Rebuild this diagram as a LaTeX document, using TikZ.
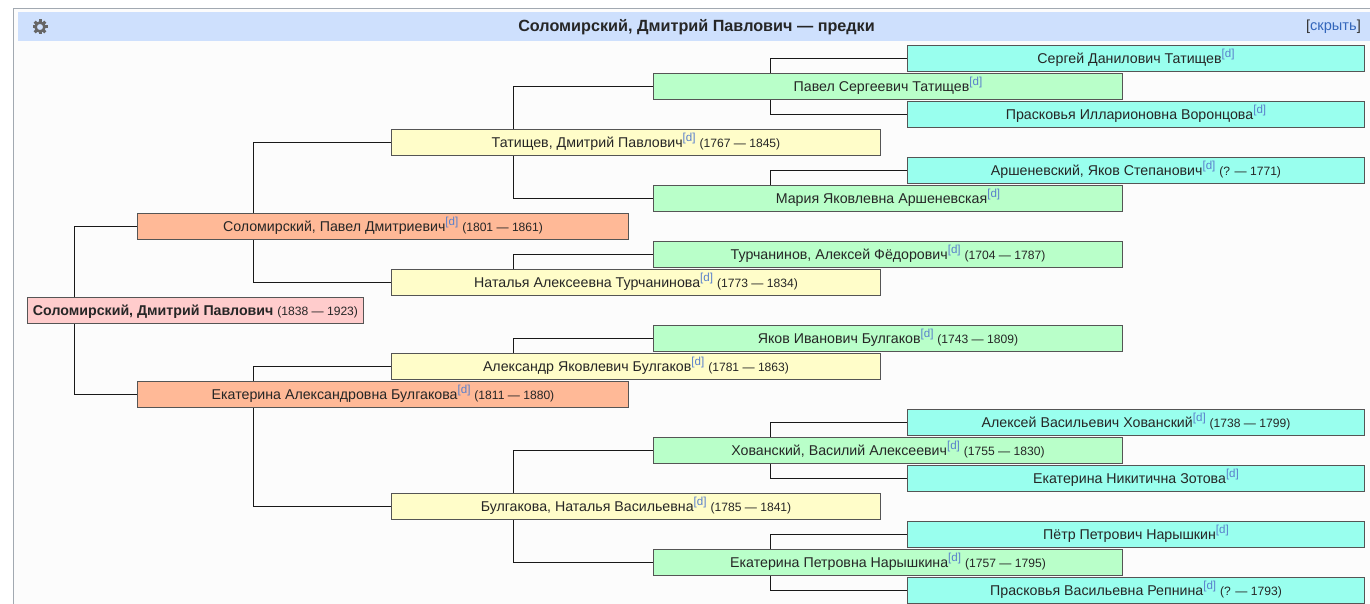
\documentclass[tikz,border=0pt]{standalone}
\usepackage{fontspec}
\setmainfont{Liberation Sans}
\definecolor{framegray}{HTML}{A2A9B1}
\definecolor{panelbg}{HTML}{FCFCFC}
\definecolor{bandblue}{HTML}{CEE0FD}
\definecolor{linkblue}{HTML}{3366BB}
\definecolor{refblue}{HTML}{5A80CC}
\definecolor{edgegray}{HTML}{555555}
\definecolor{rootpink}{HTML}{FFCCCC}
\definecolor{parentorange}{HTML}{FFB997}
\definecolor{grandyellow}{HTML}{FFFDC9}
\definecolor{greatgreen}{HTML}{B9FFC9}
\definecolor{topcyan}{HTML}{99FFEE}
\newcommand{\refd}{\raisebox{5.6pt}[0pt][0pt]{\fontsize{11.6}{11.6}\selectfont\textcolor{refblue}{[d]}}}
\newcommand{\yrs}[1]{ {\fontsize{12.1}{14}\selectfont (#1)}}
\tikzset{
        person/.style={draw=edgegray, line width=1.1pt, inner sep=0pt, minimum height=26pt, text=black!85,
                text height=11.5pt, text depth=1.5pt, font=\fontsize{14.2}{16}\selectfont, anchor=center},
        gen0/.style={person, fill=rootpink, minimum width=336pt},
        gen1/.style={person, fill=parentorange, minimum width=491pt},
        gen2/.style={person, fill=grandyellow, minimum width=489pt},
        gen3/.style={person, fill=greatgreen, minimum width=469pt},
        gen4/.style={person, fill=topcyan, minimum width=457pt},
        link/.style={line width=1pt, black!90}
}
\begin{document}
\begin{tikzpicture}[x=1pt, y=-1pt]

        \useasboundingbox (0, 0) rectangle (1370, 604);

        % panel and title band
        \fill[white] (0, 0) rectangle (1370, 604);
        \fill[panelbg] (13.5, 8.5) rectangle (1370, 604);
        \draw[framegray, line width=1pt] (13.5, 604) -- (13.5, 8.5) -- (1370, 8.5);
        \fill[bandblue] (17.5, 12.5) rectangle (1370, 41);

        \node[font=\fontsize{16.2}{18}\selectfont\bfseries, text=black!85] (title) at (696.5, 27)
                {Соломирский, Дмитрий Павлович — предки};
        \node[font=\fontsize{14.6}{16}\selectfont, text=linkblue, anchor=east, inner sep=0pt] (hide) at (1361, 27)
                {\textcolor{black!80}{[}скрыть\textcolor{black!80}{]}};

        % gear
        \foreach \a in {0, 45, ..., 315}
        {
                \draw[black!60, line width=3pt] (40, 27) ++(\a:4.5) -- ++(\a:3);
        }
        \draw[black!60, line width=2.6pt] (40, 27) circle (4.5);

        % invisible spines
        \coordinate (spineA) at (74, 0);
        \coordinate (spineB) at (253.5, 0);
        \coordinate (spineC) at (513.5, 0);
        \coordinate (spineD) at (770.5, 0);

        \node[gen0] (root) at (195.5, 310.5)
                {\textbf{Соломирский, Дмитрий Павлович}\yrs{1838 — 1923}};

        \foreach \nm/\yy/\who in {
                pavel/226.5/{Соломирский, Павел Дмитриевич\refd\yrs{1801 — 1861}},
                ekat/394.5/{Екатерина Александровна Булгакова\refd\yrs{1811 — 1880}}}
        {
                \node[gen1] (\nm) at (383, \yy) {\who};
        }

        \foreach \nm/\yy/\who in {
                tat/142.5/{Татищев, Дмитрий Павлович\refd\yrs{1767 — 1845}},
                nat/282.5/{Наталья Алексеевна Турчанинова\refd\yrs{1773 — 1834}},
                ale/366.5/{Александр Яковлевич Булгаков\refd\yrs{1781 — 1863}},
                bul/506.5/{Булгакова, Наталья Васильевна\refd\yrs{1785 — 1841}}}
        {
                \node[gen2] (\nm) at (636, \yy) {\who};
        }

        \foreach \nm/\yy/\who in {
                pts/86.5/{Павел Сергеевич Татищев\refd},
                mar/198.5/{Мария Яковлевна Аршеневская\refd},
                tur/254.5/{Турчанинов, Алексей Фёдорович\refd\yrs{1704 — 1787}},
                yak/338.5/{Яков Иванович Булгаков\refd\yrs{1743 — 1809}},
                hov/450.5/{Хованский, Василий Алексеевич\refd\yrs{1755 — 1830}},
                nar/562.5/{Екатерина Петровна Нарышкина\refd\yrs{1757 — 1795}}}
        {
                \node[gen3] (\nm) at (888, \yy) {\who};
        }

        \foreach \nm/\yy/\who in {
                ser/58.5/{Сергей Данилович Татищев\refd},
                pra/114.5/{Прасковья Илларионовна Воронцова\refd},
                ars/170.5/{Аршеневский, Яков Степанович\refd\yrs{? — 1771}},
                alv/422.5/{Алексей Васильевич Хованский\refd\yrs{1738 — 1799}},
                zot/478.5/{Екатерина Никитична Зотова\refd},
                pet/534.5/{Пётр Петрович Нарышкин\refd},
                rep/590.5/{Прасковья Васильевна Репнина\refd\yrs{? — 1793}}}
        {
                \node[gen4] (\nm) at (1136, \yy) {\who};
        }

        % connectors
        \draw[link] (root.north -| spineA) |- (pavel.west);
        \draw[link] (root.south -| spineA) |- (ekat.west);
        \draw[link] (pavel.north -| spineB) |- (tat.west);
        \draw[link] (pavel.south -| spineB) |- (nat.west);
        \draw[link] (ekat.north -| spineB) |- (ale.west);
        \draw[link] (ekat.south -| spineB) |- (bul.west);
        \draw[link] (tat.north -| spineC) |- (pts.west);
        \draw[link] (tat.south -| spineC) |- (mar.west);
        \draw[link] (nat.north -| spineC) |- (tur.west);
        \draw[link] (ale.north -| spineC) |- (yak.west);
        \draw[link] (bul.north -| spineC) |- (hov.west);
        \draw[link] (bul.south -| spineC) |- (nar.west);
        \draw[link] (pts.north -| spineD) |- (ser.west);
        \draw[link] (pts.south -| spineD) |- (pra.west);
        \draw[link] (mar.north -| spineD) |- (ars.west);
        \draw[link] (hov.north -| spineD) |- (alv.west);
        \draw[link] (hov.south -| spineD) |- (zot.west);
        \draw[link] (nar.north -| spineD) |- (pet.west);
        \draw[link] (nar.south -| spineD) |- (rep.west);

\end{tikzpicture}
\end{document}
